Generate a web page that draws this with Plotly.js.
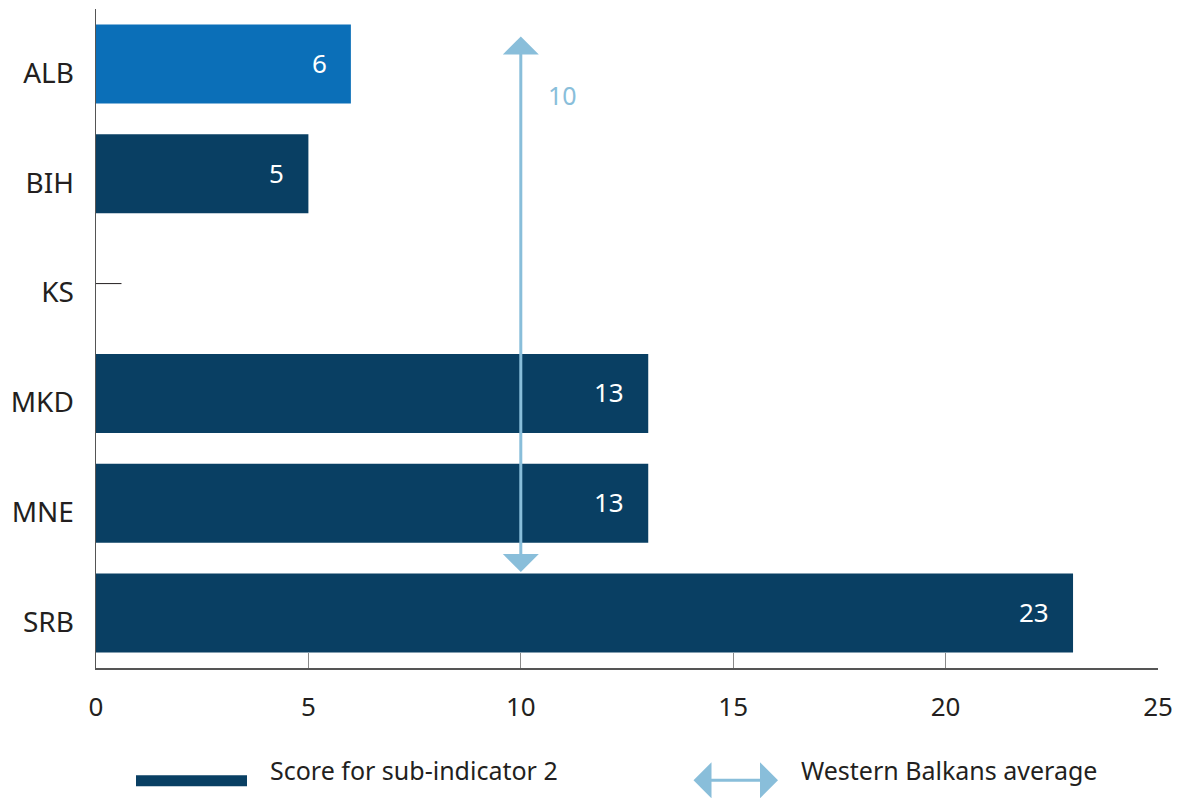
<!DOCTYPE html>
<html><head><meta charset="utf-8">
<script src="https://cdn.plot.ly/plotly-3.0.1.min.js"></script>
<style>body{margin:0;background:#fff}#c{width:1186px;height:798px}</style>
</head><body><div id="c"></div>
<script>
const categories = ["ALB","BIH","KS","MKD","MNE","SRB"];
const scores = [6,5,0,13,13,23];
const barColors = ["#0B6FB8","#093F63","#093F63","#093F63","#093F63","#093F63"];
const wbAverage = 10;
const xTicks = [0,5,10,15,20,25];
const legendLabels = ["Score for sub-indicator 2","Western Balkans average"];

const FONT = "Noto Sans, sans-serif";
const TXT = "#231F20";
const ARROW = "#89BEDA";

const trace = {
  type: "bar", orientation: "h",
  y: categories, x: scores,
  marker: {color: barColors},
  hoverinfo: "none", showlegend: false
};

const annotations = [];
scores.forEach((v,i)=>{
  if(v>0) annotations.push({x:v,y:categories[i],xref:"x",yref:"y",text:String(v),showarrow:false,
    xanchor:"right",xshift:-22,yshift:1,font:{family:FONT,size:26,color:"#ffffff"}});
});
// average double arrow
annotations.push({x:wbAverage,y:-0.25,ax:wbAverage,ay:4.64,xref:"x",yref:"y",axref:"x",ayref:"y",
  text:"",showarrow:true,arrowhead:1,startarrowhead:1,arrowside:"end+start",arrowsize:2,startarrowsize:2,arrowwidth:3,arrowcolor:ARROW,standoff:0,startstandoff:0});
annotations.push({x:wbAverage,y:0.29,xref:"x",yref:"y",text:String(wbAverage),showarrow:false,xanchor:"left",xshift:25,yshift:1,
  font:{family:FONT,size:25,color:ARROW}});
// legend
annotations.push({x:(268-96)/1062,y:(668.5-771)/660,xref:"paper",yref:"paper",text:legendLabels[0],showarrow:false,xanchor:"left",yanchor:"middle",font:{family:FONT,size:25,color:TXT}});
annotations.push({x:(799-96)/1062,y:(668.5-771)/660,xref:"paper",yref:"paper",text:legendLabels[1],showarrow:false,xanchor:"left",yanchor:"middle",font:{family:FONT,size:25,color:TXT}});
annotations.push({x:(778-96)/1062,y:(668.5-781)/660,ax:(692-96)/1062,ay:(668.5-781)/660,xref:"paper",yref:"paper",axref:"paper",ayref:"paper",
  text:"",showarrow:true,arrowhead:1,startarrowhead:1,arrowside:"end+start",arrowsize:2,startarrowsize:2,arrowwidth:3,arrowcolor:ARROW,standoff:0,startstandoff:0});

const shapes = [
  {type:"rect",xref:"paper",yref:"paper",x0:(136-96)/1062,x1:(247-96)/1062,y0:(668.5-776)/660,y1:(668.5-787)/660,fillcolor:"#093F63",line:{width:0}},
  {type:"line",xref:"x",yref:"y",x0:0,x1:0.6,y0:2,y1:2,line:{color:"#231F20",width:1}}
];

const layout = {
  width:1186,height:798,
  margin:{l:96,r:28,t:9,b:129.5},
  paper_bgcolor:"#fff",plot_bgcolor:"#fff",
  bargap:0.28,
  xaxis:{range:[0,25],tickvals:xTicks,ticks:"inside",ticklen:15,tickcolor:"#8a8a8a",tickwidth:1,
    showline:true,linecolor:"#555",linewidth:1.5,showgrid:false,zeroline:false,
    tickfont:{family:FONT,size:26,color:TXT},ticklabelstandoff:15},
  yaxis:{type:"category",range:[5.5,-0.5],showline:true,linecolor:"#555",linewidth:1.5,ticks:"",showgrid:false,zeroline:false,
    tickfont:{family:FONT,size:28,color:TXT},ticklabelstandoff:15,ticklabelshift:-9},
  annotations, shapes
};
Plotly.newPlot("c",[trace],layout,{displayModeBar:false,staticPlot:true});
</script></body></html>
